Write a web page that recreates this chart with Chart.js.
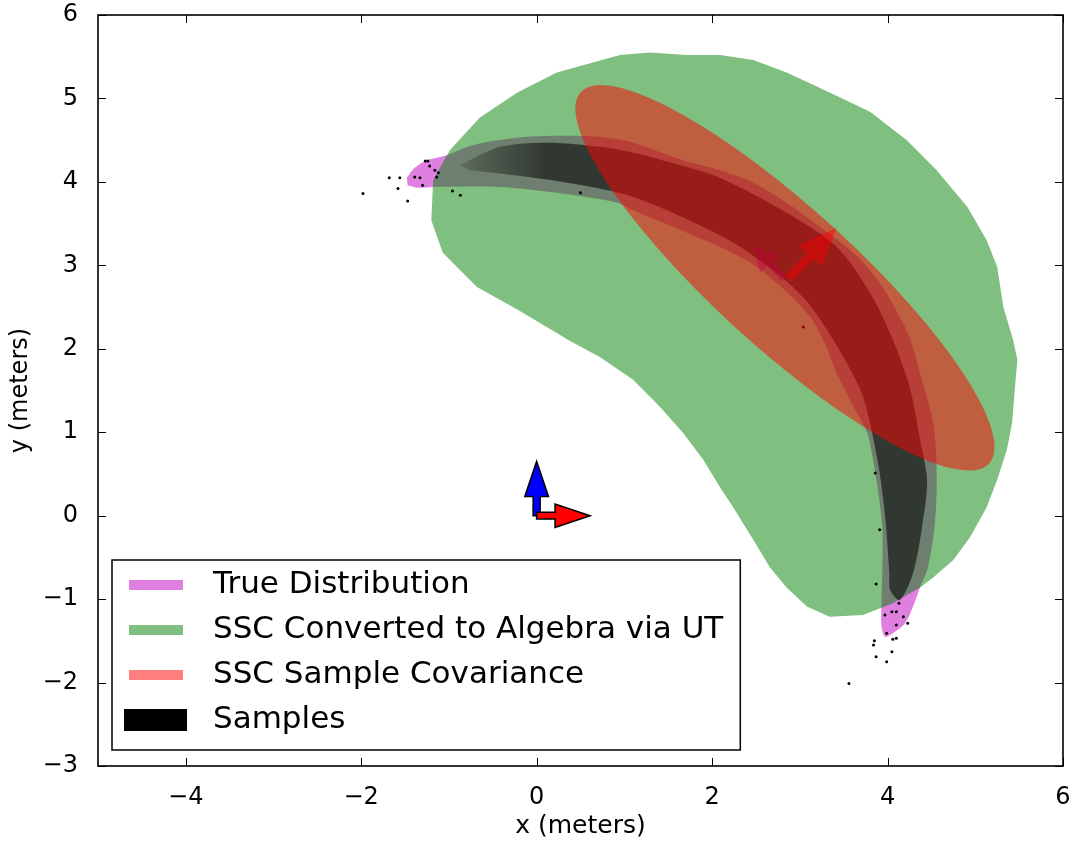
<!DOCTYPE html>
<html>
<head>
<meta charset="utf-8">
<script src="https://cdn.jsdelivr.net/npm/chart.js@4.4.1/dist/chart.umd.min.js"></script>
<style>
  body { margin: 0; background: #fff; }
  canvas { display: block; }
</style>
</head>
<body>
<canvas id="chart" width="1073" height="844"></canvas>
<script>
const seriesNames = ['True Distribution', 'SSC Converted to Algebra via UT', 'SSC Sample Covariance', 'Samples'];
const xTicks = [-4, -2, 0, 2, 4, 6];
const yTicks = [-3, -2, -1, 0, 1, 2, 3, 4, 5, 6];

// outline of the true (banana shaped) distribution, [x, y] in meters
const trueOutline = [
  [-1.48, 4.05], [-1.39, 4.17], [-1.25, 4.26], [-1.02, 4.32], [-0.82, 4.41], [-0.61, 4.47],
  [-0.11, 4.54], [0.53, 4.55], [0.87, 4.52], [1.10, 4.47], [1.67, 4.26], [2.09, 4.14],
  [2.47, 3.99], [2.85, 3.75], [3.23, 3.46], [3.61, 3.15], [3.91, 2.79], [4.14, 2.38],
  [4.26, 2.11], [4.37, 1.71], [4.52, 1.11], [4.56, 0.51], [4.54, -0.09], [4.46, -0.62],
  [4.37, -0.86], [4.29, -1.09], [4.20, -1.29], [4.06, -1.41], [3.97, -1.45], [3.93, -1.31],
  [3.93, -1.09], [3.94, -0.69], [3.94, -0.14], [3.89, 0.31], [3.83, 0.70], [3.77, 0.99],
  [3.65, 1.23], [3.42, 1.71], [3.29, 2.05], [3.14, 2.35], [2.85, 2.68], [2.47, 3.01],
  [2.09, 3.22], [1.49, 3.49], [1.10, 3.66], [0.92, 3.75], [0.57, 3.82], [0.15, 3.88],
  [-0.42, 3.94], [-1.18, 3.94], [-1.35, 3.93], [-1.47, 3.96]
];

// region covered by the unscented transform result
const utOutline = [
  [0.95, 5.52], [1.29, 5.55], [1.71, 5.52], [2.09, 5.52], [2.47, 5.46], [2.85, 5.31],
  [3.34, 5.07], [3.80, 4.84], [4.22, 4.50], [4.56, 4.14], [4.91, 3.70], [5.13, 3.30],
  [5.25, 2.98], [5.32, 2.50], [5.43, 2.11], [5.48, 1.87], [5.45, 1.51], [5.42, 1.11],
  [5.36, 0.79], [5.25, 0.43], [5.13, 0.10], [4.94, -0.26], [4.75, -0.53], [4.52, -0.74],
  [4.37, -0.86], [4.06, -1.05], [3.72, -1.19], [3.34, -1.21], [3.08, -1.09], [2.85, -0.86],
  [2.66, -0.62], [2.47, -0.29], [2.24, 0.10], [2.09, 0.34], [1.90, 0.67], [1.67, 0.99],
  [1.41, 1.30], [1.10, 1.63], [0.72, 1.90], [0.35, 2.11], [0.23, 2.19], [-0.22, 2.47],
  [-0.68, 2.74], [-1.07, 3.15], [-1.20, 3.54], [-1.18, 4.02], [-0.99, 4.38], [-0.65, 4.77],
  [-0.22, 5.07], [0.23, 5.31]
];

// dense core of the sample cloud
const sampleCore = [
  [-0.87, 4.20], [-0.42, 4.42], [0.15, 4.47], [0.72, 4.42], [1.10, 4.35], [1.64, 4.20],
  [2.09, 4.05], [2.85, 3.63], [3.42, 3.22], [3.80, 2.67], [4.06, 2.11], [4.26, 1.51],
  [4.37, 0.91], [4.45, 0.43], [4.40, -0.09], [4.29, -0.69], [4.14, -1.01], [4.03, -0.89],
  [4.02, -0.69], [3.98, -0.09], [3.91, 0.51], [3.80, 1.11], [3.69, 1.51], [3.38, 2.11],
  [3.06, 2.59], [2.66, 2.97], [2.09, 3.36], [1.10, 3.82], [0.35, 3.99], [-0.42, 4.10],
  [-0.76, 4.14]
];

// isolated samples outside the core
const strayPoints = [
  [-1.98, 3.86], [-1.68, 4.05], [-1.56, 4.05], [-1.58, 3.92], [-1.47, 3.77], [-1.27, 4.25],
  [-1.24, 4.25], [-0.96, 3.89], [-0.87, 3.84], [0.50, 3.87], [3.87, -0.82], [4.23, -1.29],
  [3.85, -1.50], [3.84, -1.55], [4.06, -1.48], [4.10, -1.47], [4.05, -1.63], [3.87, -1.69],
  [3.99, -1.75], [3.56, -2.01], [3.86, 0.51], [3.91, -0.17], [3.04, 2.26],
  [-1.39, 4.06], [-1.33, 4.05], [-1.22, 4.19], [-1.16, 4.14], [-1.14, 4.06], [-1.30, 3.96],
  [-1.12, 4.11], [3.97, -1.19], [4.05, -1.15], [4.10, -1.15], [4.13, -1.05], [4.18, -1.21],
  [4.10, -1.31], [3.99, -1.41]
];

// sample covariance ellipse: centre, semi axes, rotation in degrees
const ellipseCenter = [2.83, 2.85];
const ellipseAxes = [3.22, 0.82];
const ellipseAngle = [-43.9];

// arrows: robot frame at the origin and the estimated heading
const arrowTails = [[2.82, 2.84], [2.87, 2.84], [0, 0], [0, 0]];
const arrowTips = [[2.46, 3.24], [3.42, 3.45], [0, 0.65], [0.61, 0]];

const arrowStyles = [
  { fill: 'rgba(128,0,128,0.4)', stroke: null, w: 0.08, hw: 0.3, hl: 0.3 },
  { fill: 'rgba(255,0,0,0.45)', stroke: null, w: 0.1, hw: 0.36, hl: 0.45 },
  { fill: '#0000ff', stroke: '#000', w: 0.08, hw: 0.27, hl: 0.42 },
  { fill: '#ff0000', stroke: '#000', w: 0.08, hw: 0.28, hl: 0.4 }
];
const legendColors = ['rgba(191,0,191,0.5)', 'rgba(0,128,0,0.5)', 'rgba(255,0,0,0.5)', '#000'];

const toPts = arr => arr.map(([x, y]) => ({ x, y }));
const fmt = v => String(v).replace('-', '\u2212');

function shape(label, data, color, order, tension) {
  return {
    label, data: toPts(data), showLine: true, fill: 'shape', tension,
    backgroundColor: color, borderColor: 'rgba(0,0,0,0)', borderWidth: 0,
    pointRadius: 0, order
  };
}

function arrowPath(ctx, px, py, tail, tip, s) {
  const dx = tip[0] - tail[0], dy = tip[1] - tail[1];
  const len = Math.hypot(dx, dy);
  const ux = dx / len, uy = dy / len, nx = -uy, ny = ux;
  const bx = tip[0] - ux * s.hl, by = tip[1] - uy * s.hl;
  const pts = [
    [tail[0] + nx * s.w / 2, tail[1] + ny * s.w / 2],
    [bx + nx * s.w / 2, by + ny * s.w / 2],
    [bx + nx * s.hw / 2, by + ny * s.hw / 2],
    tip,
    [bx - nx * s.hw / 2, by - ny * s.hw / 2],
    [bx - nx * s.w / 2, by - ny * s.w / 2],
    [tail[0] - nx * s.w / 2, tail[1] - ny * s.w / 2]
  ];
  ctx.beginPath();
  pts.forEach((p, i) => i ? ctx.lineTo(px(p[0]), py(p[1])) : ctx.moveTo(px(p[0]), py(p[1])));
  ctx.closePath();
}

function drawArrow(ctx, px, py, i) {
  const s = arrowStyles[i];
  arrowPath(ctx, px, py, arrowTails[i], arrowTips[i], s);
  ctx.fillStyle = s.fill;
  ctx.fill();
  if (s.stroke) {
    ctx.strokeStyle = s.stroke;
    ctx.lineWidth = 1.5;
    ctx.lineJoin = 'miter';
    ctx.stroke();
  }
}

// ellipse and arrows sit above the filled regions
const overlay = {
  id: 'overlay',
  afterDatasetsDraw(chart) {
    const { ctx, chartArea: a, scales: { x, y } } = chart;
    const px = v => x.getPixelForValue(v), py = v => y.getPixelForValue(v);
    ctx.save();
    ctx.beginPath();
    ctx.rect(a.left, a.top, a.right - a.left, a.bottom - a.top);
    ctx.clip();

    drawArrow(ctx, px, py, 0);
    drawArrow(ctx, px, py, 1);

    ctx.save();
    ctx.translate(px(ellipseCenter[0]), py(ellipseCenter[1]));
    ctx.scale(px(1) - px(0), py(1) - py(0));
    ctx.rotate(ellipseAngle[0] * Math.PI / 180);
    ctx.beginPath();
    ctx.ellipse(0, 0, ellipseAxes[0], ellipseAxes[1], 0, 0, 2 * Math.PI);
    ctx.restore();
    ctx.fillStyle = 'rgba(255,0,0,0.5)';
    ctx.fill();

    drawArrow(ctx, px, py, 2);
    drawArrow(ctx, px, py, 3);
    ctx.restore();
  },
  afterDraw(chart) {
    const { ctx, chartArea: a, scales: { x, y } } = chart;
    ctx.save();
    // inward ticks on all four sides
    ctx.strokeStyle = '#000';
    ctx.lineWidth = 1;
    ctx.beginPath();
    xTicks.forEach(v => {
      const p = Math.round(x.getPixelForValue(v)) + 0.5;
      ctx.moveTo(p, a.bottom); ctx.lineTo(p, a.bottom - 8);
      ctx.moveTo(p, a.top); ctx.lineTo(p, a.top + 8);
    });
    yTicks.forEach(v => {
      const p = Math.round(y.getPixelForValue(v)) + 0.5;
      ctx.moveTo(a.left, p); ctx.lineTo(a.left + 8, p);
      ctx.moveTo(a.right, p); ctx.lineTo(a.right - 8, p);
    });
    ctx.stroke();
    ctx.lineWidth = 1.6;
    ctx.strokeRect(a.left, a.top, a.right - a.left, a.bottom - a.top);

    // legend box in the lower left corner
    ctx.font = '31px "DejaVu Sans"';
    const left = a.left + 14, bottom = a.bottom - 16;
    const textX = left + 101;
    const maxW = Math.max(...seriesNames.map(t => ctx.measureText(t).width));
    const w = textX + maxW + 17 - left, h = 190, top = bottom - h;
    ctx.fillStyle = '#fff';
    ctx.fillRect(left, top, w, h);
    ctx.lineWidth = 1.5;
    ctx.strokeStyle = '#000';
    ctx.strokeRect(left, top, w, h);
    seriesNames.forEach((name, i) => {
      const cy = top + 25 + i * 45;
      ctx.fillStyle = legendColors[i];
      if (i < 3) ctx.fillRect(left + 17, cy - 5, 54, 10);
      else ctx.fillRect(left + 12, cy - 11, 63, 22);
      ctx.fillStyle = '#000';
      ctx.textBaseline = 'middle';
      ctx.textAlign = 'left';
      ctx.fillText(name, textX, cy);
    });
    ctx.restore();
  }
};

new Chart(document.getElementById('chart'), {
  type: 'scatter',
  data: {
    datasets: [
      shape(seriesNames[0], trueOutline, 'rgba(191,0,191,0.5)', 4, 0.3),
      shape(seriesNames[1], utOutline, 'rgba(0,128,0,0.5)', 3, 0),
      shape(seriesNames[3], sampleCore, function (c) {
        const ch = c.chart;
        if (!ch.chartArea) return 'rgba(0,0,0,0.55)';
        const sx = ch.scales.x;
        const g = ch.ctx.createLinearGradient(sx.getPixelForValue(-1.0), 0, sx.getPixelForValue(0.1), 0);
        g.addColorStop(0, 'rgba(0,0,0,0.1)');
        g.addColorStop(1, 'rgba(0,0,0,0.56)');
        return g;
      }, 2, 0.3),
      {
        label: seriesNames[3], data: toPts(strayPoints), showLine: false,
        pointRadius: 1.5, pointBorderWidth: 0, pointBackgroundColor: '#000', order: 1
      }
    ]
  },
  options: {
    responsive: false,
    animation: false,
    devicePixelRatio: 1,
    layout: { padding: { top: 15, right: 10, left: 0, bottom: 0 } },
    plugins: { legend: { display: false }, tooltip: { enabled: false } },
    scales: {
      x: {
        type: 'linear', min: -5, max: 6,
        grid: { display: false }, border: { display: false },
        afterBuildTicks: s => { s.ticks = xTicks.map(v => ({ value: v })); },
        afterFit: s => { s.height = 78; s.paddingLeft = 0; s.paddingRight = 0; },
        ticks: { padding: 9, color: '#000', autoSkip: false, maxRotation: 0,
                 font: { family: 'DejaVu Sans', size: 24 }, callback: fmt },
        title: { display: true, text: 'x (meters)', color: '#000',
                 font: { family: 'DejaVu Sans', size: 25 }, padding: { top: 0, bottom: 3 } }
      },
      y: {
        type: 'linear', min: -3, max: 6,
        grid: { display: false }, border: { display: false },
        afterBuildTicks: s => { s.ticks = yTicks.map(v => ({ value: v })); },
        afterFit: s => { s.width = 98; s.paddingTop = 0; s.paddingBottom = 0; },
        ticks: { padding: 12, color: '#000', autoSkip: false,
                 font: { family: 'DejaVu Sans', size: 24 }, callback: fmt },
        title: { display: true, text: 'y (meters)', color: '#000',
                 font: { family: 'DejaVu Sans', size: 24 }, padding: { top: 6, bottom: 0 } }
      }
    }
  },
  plugins: [overlay]
});
</script>
</body>
</html>
